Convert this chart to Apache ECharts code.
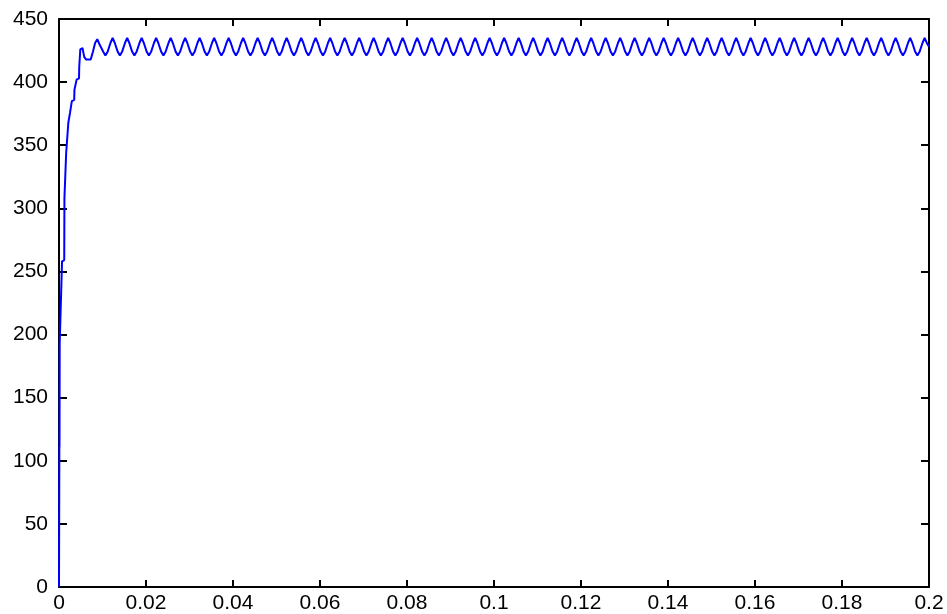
<!DOCTYPE html>
<html>
<head>
<meta charset="utf-8">
<script src="https://cdn.jsdelivr.net/npm/echarts@6/dist/echarts.min.js"></script>
<style>html,body{margin:0;padding:0;background:#fff;}#c{width:947px;height:614px;}</style>
</head>
<body>
<div id="c"></div>
<script>
// Tick labels
const xTickLabels = ['0','0.02','0.04','0.06','0.08','0.1','0.12','0.14','0.16','0.18','0.2'];
const yTickLabels = ['0','50','100','150','200','250','300','350','400','450'];

// Start-up (rise) section: time [s] and value
const riseTime = [0,0.00008,0.00012,0.00016,0.0006,0.0007,0.0012,0.00125,0.0016,0.00165,0.0021,0.00215,0.0025,0.00255,0.0029,0.00295,0.0035,0.00355,0.004,0.00405,0.0046,0.00465,0.0049,0.0054,0.0058,0.0062,0.0073,0.0078,0.0083,0.0088,0.0093,0.01017];
const riseVolt = [0,110,112,193,194,258,259,308,309,344,345,368,369,376,377,385,386,394,395,402,403,412,426,427,420,418,418,424,431,434,430,424];

// Steady-state ripple section: time [s] and value
const rippleTime = [
0.01067,0.01117,0.01183,0.01233,0.01283,0.0135,0.014,0.0145,0.01517,0.01567,0.01617,0.01683,0.01733,0.01783,0.0185,0.019,0.0195,0.02017,
0.02067,0.02117,0.02183,0.02233,0.02283,0.0235,0.024,0.0245,0.02517,0.02567,0.02617,0.02683,0.02733,0.02783,0.0285,0.029,0.0295,0.03017,
0.03067,0.03117,0.03183,0.03233,0.03283,0.0335,0.034,0.0345,0.03517,0.03567,0.03617,0.03683,0.03733,0.03783,0.0385,0.039,0.0395,0.04017,
0.04067,0.04117,0.04183,0.04233,0.04283,0.0435,0.044,0.0445,0.04517,0.04567,0.04617,0.04683,0.04733,0.04783,0.0485,0.049,0.0495,0.05017,
0.05067,0.05117,0.05183,0.05233,0.05283,0.0535,0.054,0.0545,0.05517,0.05567,0.05617,0.05683,0.05733,0.05783,0.0585,0.059,0.0595,0.06017,
0.06067,0.06117,0.06183,0.06233,0.06283,0.0635,0.064,0.0645,0.06517,0.06567,0.06617,0.06683,0.06733,0.06783,0.0685,0.069,0.0695,0.07017,
0.07067,0.07117,0.07183,0.07233,0.07283,0.0735,0.074,0.0745,0.07517,0.07567,0.07617,0.07683,0.07733,0.07783,0.0785,0.079,0.0795,0.08017,
0.08067,0.08117,0.08183,0.08233,0.08283,0.0835,0.084,0.0845,0.08517,0.08567,0.08617,0.08683,0.08733,0.08783,0.0885,0.089,0.0895,0.09017,
0.09067,0.09117,0.09183,0.09233,0.09283,0.0935,0.094,0.0945,0.09517,0.09567,0.09617,0.09683,0.09733,0.09783,0.0985,0.099,0.0995,0.10017,
0.10067,0.10117,0.10183,0.10233,0.10283,0.1035,0.104,0.1045,0.10517,0.10567,0.10617,0.10683,0.10733,0.10783,0.1085,0.109,0.1095,0.11017,
0.11067,0.11117,0.11183,0.11233,0.11283,0.1135,0.114,0.1145,0.11517,0.11567,0.11617,0.11683,0.11733,0.11783,0.1185,0.119,0.1195,0.12017,
0.12067,0.12117,0.12183,0.12233,0.12283,0.1235,0.124,0.1245,0.12517,0.12567,0.12617,0.12683,0.12733,0.12783,0.1285,0.129,0.1295,0.13017,
0.13067,0.13117,0.13183,0.13233,0.13283,0.1335,0.134,0.1345,0.13517,0.13567,0.13617,0.13683,0.13733,0.13783,0.1385,0.139,0.1395,0.14017,
0.14067,0.14117,0.14183,0.14233,0.14283,0.1435,0.144,0.1445,0.14517,0.14567,0.14617,0.14683,0.14733,0.14783,0.1485,0.149,0.1495,0.15017,
0.15067,0.15117,0.15183,0.15233,0.15283,0.1535,0.154,0.1545,0.15517,0.15567,0.15617,0.15683,0.15733,0.15783,0.1585,0.159,0.1595,0.16017,
0.16067,0.16117,0.16183,0.16233,0.16283,0.1635,0.164,0.1645,0.16517,0.16567,0.16617,0.16683,0.16733,0.16783,0.1685,0.169,0.1695,0.17017,
0.17067,0.17117,0.17183,0.17233,0.17283,0.1735,0.174,0.1745,0.17517,0.17567,0.17617,0.17683,0.17733,0.17783,0.1785,0.179,0.1795,0.18017,
0.18067,0.18117,0.18183,0.18233,0.18283,0.1835,0.184,0.1845,0.18517,0.18567,0.18617,0.18683,0.18733,0.18783,0.1885,0.189,0.1895,0.19017,
0.19067,0.19117,0.19183,0.19233,0.19283,0.1935,0.194,0.1945,0.19517,0.19567,0.19617,0.19683,0.19733,0.19783,0.1985,0.199,0.1995,0.2
];
const rippleVolt = [
421,424,431,435,431,424,421,424,431,435,431,424,421,424,431,435,431,424,
421,424,431,435,431,424,421,424,431,435,431,424,421,424,431,435,431,424,
421,424,431,435,431,424,421,424,431,435,431,424,421,424,431,435,431,424,
421,424,431,435,431,424,421,424,431,435,431,424,421,424,431,435,431,424,
421,424,431,435,431,424,421,424,431,435,431,424,421,424,431,435,431,424,
421,424,431,435,431,424,421,424,431,435,431,424,421,424,431,435,431,424,
421,424,431,435,431,424,421,424,431,435,431,424,421,424,431,435,431,424,
421,424,431,435,431,424,421,424,431,435,431,424,421,424,431,435,431,424,
421,424,431,435,431,424,421,424,431,435,431,424,421,424,431,435,431,424,
421,424,431,435,431,424,421,424,431,435,431,424,421,424,431,435,431,424,
421,424,431,435,431,424,421,424,431,435,431,424,421,424,431,435,431,424,
421,424,431,435,431,424,421,424,431,435,431,424,421,424,431,435,431,424,
421,424,431,435,431,424,421,424,431,435,431,424,421,424,431,435,431,424,
421,424,431,435,431,424,421,424,431,435,431,424,421,424,431,435,431,424,
421,424,431,435,431,424,421,424,431,435,431,424,421,424,431,435,431,424,
421,424,431,435,431,424,421,424,431,435,431,424,421,424,431,435,431,424,
421,424,431,435,431,424,421,424,431,435,431,424,421,424,431,435,431,424,
421,424,431,435,431,424,421,424,431,435,431,424,421,424,431,435,431,424,
421,424,431,435,431,424,421,424,431,435,431,424,421,424,431,435,431,428
];

const data = [];
riseTime.forEach((t, i) => data.push([t, riseVolt[i]]));
rippleTime.forEach((t, i) => data.push([t, rippleVolt[i]]));

const FONT = 'Liberation Sans';
const labelStyle = { color: '#000', fontFamily: FONT, fontSize: 21 };
const axisLine = { show: true, onZero: false, lineStyle: { color: '#000', width: 2 } };
const xTick = { show: true, inside: true, length: 7, lineStyle: { color: '#000', width: 2 } };
const yTick = { show: true, inside: true, length: 8, lineStyle: { color: '#000', width: 2 } };

const chart = echarts.init(document.getElementById('c'), null, { renderer: 'canvas' });
chart.setOption({
  animation: false,
  backgroundColor: '#fff',
  grid: { left: 59, right: 18, top: 19, bottom: 26, containLabel: false },
  xAxis: [
    {
      type: 'value', min: 0, max: 0.2, interval: 0.02, position: 'bottom',
      axisLine: axisLine, axisTick: xTick,
      axisLabel: {
        ...labelStyle, margin: 6,
        formatter: v => xTickLabels[Math.round(v / 0.02)]
      },
      splitLine: { show: false }
    },
    {
      type: 'value', min: 0, max: 0.2, interval: 0.02, position: 'top',
      axisLine: axisLine, axisTick: xTick,
      axisLabel: { show: false },
      splitLine: { show: false }
    }
  ],
  yAxis: [
    {
      type: 'value', min: 0, max: 450, interval: 50, position: 'left',
      axisLine: axisLine, axisTick: yTick,
      axisLabel: {
        ...labelStyle, margin: 11, padding: [0, 0, 6, 0],
        formatter: v => yTickLabels[Math.round(v / 50)]
      },
      splitLine: { show: false }
    },
    {
      type: 'value', min: 0, max: 450, interval: 50, position: 'right',
      axisLine: axisLine, axisTick: yTick,
      axisLabel: { show: false },
      splitLine: { show: false }
    }
  ],
  series: [
    {
      type: 'line',
      xAxisIndex: 0, yAxisIndex: 0,
      data: data,
      showSymbol: false,
      symbol: 'none',
      lineStyle: { color: '#0000ff', width: 2 },
      itemStyle: { color: '#0000ff' }
    }
  ]
});
</script>
</body>
</html>
